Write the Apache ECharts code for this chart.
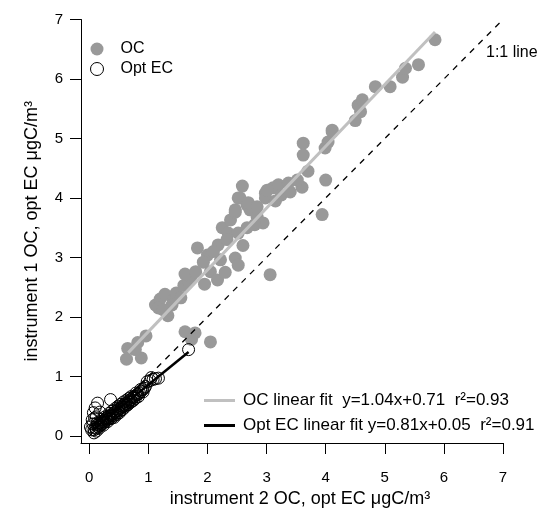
<!DOCTYPE html>
<html>
<head>
<meta charset="utf-8">
<script src="https://cdn.jsdelivr.net/npm/echarts@6/dist/echarts.min.js"></script>
<style>
  html, body { margin: 0; padding: 0; background: #fff; }
  #chart { width: 539px; height: 508px; }
</style>
</head>
<body>
<div id="chart"></div>
<script>
// OC points, instrument 2 (x) vs instrument 1 (y)
var ocPoints = [
  [0.63,1.29],[0.88,1.31],[0.65,1.47],[0.82,1.57],[0.96,1.68],[0.78,1.45],
  [1.12,2.2],[1.2,2.3],[1.28,2.38],[1.17,2.15],[1.33,2.02],[1.42,2.28],[1.47,2.4],
  [1.55,2.32],[1.6,2.53],[1.68,2.6],[1.72,2.67],[1.62,2.72],[1.8,2.76],[1.4,2.2],[1.25,2.12],
  [1.62,1.75],[1.79,1.73],[2.05,1.58],[1.73,1.62],
  [1.83,3.16],[2.0,3.04],[1.93,2.92],[2.05,2.76],[2.17,2.62],[2.22,2.96],[2.18,3.21],
  [2.25,3.5],[2.35,3.41],[2.39,3.63],[2.47,3.76],[2.47,3.8],[2.52,3.41],[2.47,2.99],
  [2.52,2.87],[2.67,3.5],[2.72,3.8],[2.67,3.88],[2.84,3.68],[2.94,3.58],[2.59,4.2],
  [2.52,4.0],[2.55,4.0],[2.69,3.92],[2.98,4.08],[3.11,4.17],[2.98,4.0],[2.84,3.85],
  [3.2,4.22],[3.37,4.25],[3.6,4.18],[3.52,4.3],[3.01,4.13],[2.33,3.3],[2.1,3.1],
  [1.95,2.55],[2.3,2.75],[2.6,3.2],[2.8,3.55],[3.15,3.95],[3.25,4.05],[3.4,4.1],
  [3.06,2.71],[3.94,3.72],
  [3.62,4.92],[3.62,4.72],[4.11,5.11],[4.04,4.94],[3.99,4.84],[4.11,5.14],[4.59,5.45],
  [4.55,5.56],[4.62,5.65],[4.84,5.87],[5.09,5.87],[5.3,6.03],[5.35,6.18],[5.57,6.24],
  [5.85,6.66],[4.0,4.3],[3.7,4.45],[4.5,5.3]
];

// optical EC points
var ecPoints = [
  [0.08,0.10],[0.10,0.14],[0.12,0.12],[0.13,0.18],[0.15,0.15],[0.16,0.20],[0.18,0.17],
  [0.19,0.22],[0.20,0.19],[0.22,0.24],[0.23,0.21],[0.25,0.26],[0.26,0.23],[0.28,0.29],
  [0.29,0.26],[0.30,0.31],[0.32,0.28],[0.33,0.33],[0.35,0.30],[0.36,0.35],[0.38,0.34],
  [0.40,0.37],[0.41,0.33],[0.43,0.39],[0.45,0.41],[0.46,0.38],[0.48,0.43],[0.50,0.45],
  [0.52,0.42],[0.54,0.47],[0.55,0.50],[0.57,0.49],[0.59,0.52],[0.60,0.48],[0.62,0.55],
  [0.64,0.53],[0.66,0.57],[0.68,0.59],[0.70,0.61],[0.72,0.58],[0.74,0.64],[0.76,0.66],
  [0.78,0.63],[0.80,0.69],[0.82,0.70],[0.85,0.72],[0.88,0.75],[0.90,0.78],[0.93,0.80],
  [0.12,0.08],[0.14,0.22],[0.17,0.13],[0.21,0.28],[0.24,0.18],[0.27,0.32],[0.31,0.24],
  [0.34,0.38],[0.37,0.29],[0.39,0.42],[0.42,0.31],[0.44,0.46],[0.47,0.36],[0.49,0.50],
  [0.51,0.39],[0.53,0.53],[0.56,0.44],[0.58,0.57],[0.61,0.51],[0.63,0.60],[0.65,0.52],
  [0.67,0.63],[0.69,0.56],[0.71,0.66],[0.75,0.60],[0.79,0.72],[0.83,0.66],[0.87,0.78],
  [0.91,0.74],[0.95,0.83],[0.06,0.20],[0.09,0.30],[0.04,0.10],
  [0.02,0.15],[0.05,0.27],[0.07,0.39],[0.10,0.47],[0.14,0.55],[0.36,0.61],[0.08,0.05],
  [0.12,0.32],[0.18,0.40],
  [0.98,0.91],[1.03,0.93],[1.08,0.95],[1.12,0.96],[1.17,0.97],[1.05,0.98],
  [1.68,1.45]
];

// fit line end points
var ocFit = [[0.66,1.40],[5.85,6.79]];
var ecFit = [[0.05,0.09],[1.68,1.41]];
var oneToOne = [[0,0],[7,7]];

var tickValues = [0,1,2,3,4,5,6,7];

var ocFitName = 'OC linear fit  y=1.04x+0.71  r²=0.93';
var ecFitName = 'Opt EC linear fit y=0.81x+0.05  r²=0.91';

var font = 'Arial, "Liberation Sans", sans-serif';

var axisCommon = {
  type: 'value',
  nameLocation: 'middle',
  nameTextStyle: { fontFamily: font, fontSize: 18, color: '#000' },
  splitLine: { show: false },
  axisLine: { show: true, onZero: false, lineStyle: { color: '#000', width: 1 } },
  axisTick: { show: true, length: 11, customValues: tickValues, lineStyle: { color: '#000', width: 1 } },
  axisLabel: { customValues: tickValues, fontFamily: font, fontSize: 15, color: '#000' }
};

var myChart = echarts.init(document.getElementById('chart'));

var option = {
  animation: false,
  backgroundColor: '#fff',
  grid: { left: 81, right: 36, top: 19.5, bottom: 65, outerBoundsMode: 'none' },
  xAxis: Object.assign({}, axisCommon, {
    min: -0.14, max: 7,
    name: 'instrument 2 OC, opt EC μgC/m³',
    nameGap: 46,
    nameTextStyle: Object.assign({}, axisCommon.nameTextStyle, { padding: [0, 0, 0, 16] }),
    axisLabel: Object.assign({}, axisCommon.axisLabel, { margin: 27 })
  }),
  yAxis: Object.assign({}, axisCommon, {
    min: -0.12, max: 7,
    name: 'instrument 1 OC, opt EC μgC/m³',
    nameGap: 40,
    axisLabel: Object.assign({}, axisCommon.axisLabel, { margin: 18 })
  }),
  legend: [
    {
      data: [{ name: 'OC', icon: 'circle' }, { name: 'Opt EC', icon: 'circle' }],
      orient: 'vertical',
      left: 85, top: 36,
      itemWidth: 13, itemHeight: 13, itemGap: 4,
      itemStyle: { borderWidth: 1 },
      textStyle: { fontFamily: font, fontSize: 16, lineHeight: 16, color: '#000', padding: [0, 0, 0, 12] }
    },
    {
      data: [{ name: ocFitName, icon: 'rect' }, { name: ecFitName, icon: 'rect' }],
      orient: 'vertical',
      left: 199, top: 387,
      itemWidth: 31, itemHeight: 3, itemGap: 8,
      textStyle: { fontFamily: font, fontSize: 17, lineHeight: 17, color: '#000', padding: [0, 0, 0, 3] }
    }
  ],
  graphic: [
    { type: 'text', left: 486, top: 45,
      style: { text: '1:1 line', fontFamily: font, fontSize: 16, fill: '#000' } }
  ],
  series: [
    {
      name: 'OC', type: 'scatter', data: ocPoints,
      symbol: 'circle', symbolSize: 13,
      itemStyle: { color: '#999999', opacity: 1 }
    },
    {
      name: 'Opt EC', type: 'scatter', data: ecPoints,
      symbol: 'circle', symbolSize: 12,
      itemStyle: { color: 'rgba(255,255,255,0)', borderColor: '#000', borderWidth: 1, opacity: 1 }
    },
    {
      name: '1:1', type: 'line', data: oneToOne, symbol: 'none',
      lineStyle: { color: '#000', width: 1.3, type: [6, 6] }
    },
    {
      name: ocFitName, type: 'line', data: ocFit, symbol: 'none',
      itemStyle: { color: '#c0c0c0' },
      lineStyle: { color: '#c0c0c0', width: 3 }
    },
    {
      name: ecFitName, type: 'line', data: ecFit, symbol: 'none',
      itemStyle: { color: '#000' },
      lineStyle: { color: '#000', width: 2.5 }
    }
  ]
};

myChart.setOption(option);
</script>
</body>
</html>
